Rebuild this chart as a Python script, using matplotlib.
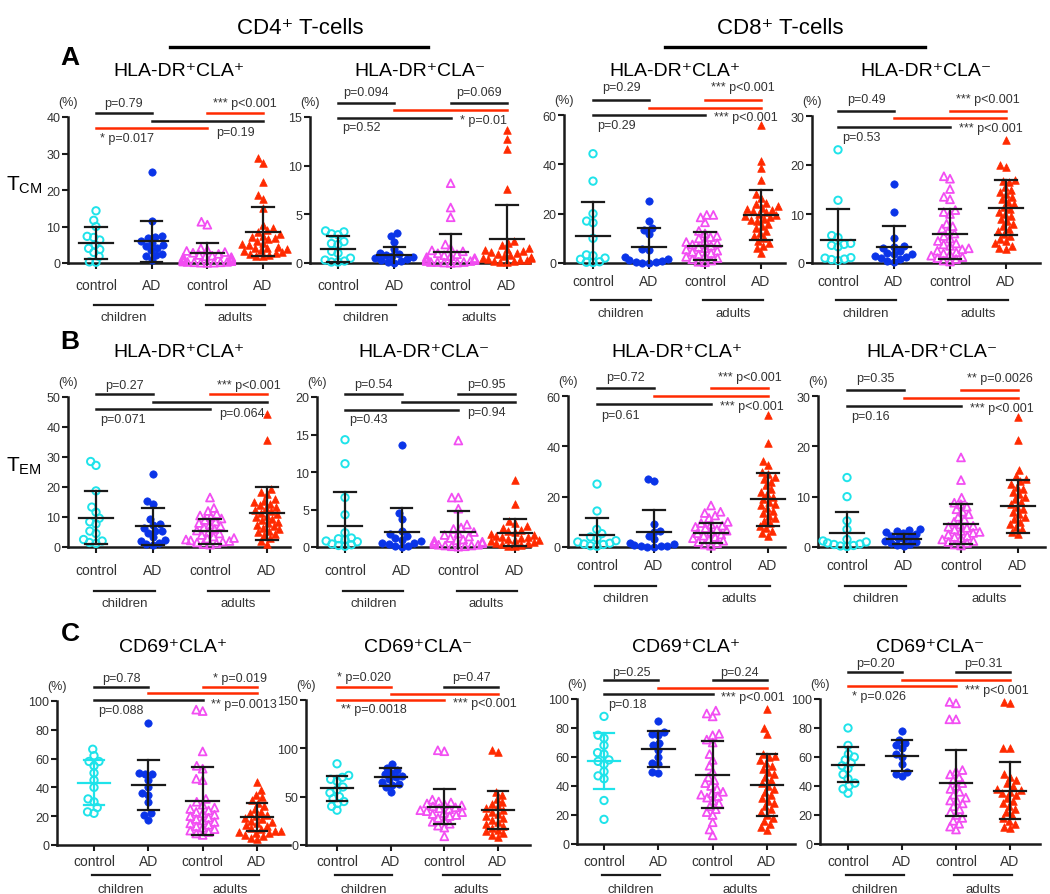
import numpy as np
import matplotlib
matplotlib.use("Agg")
import matplotlib.pyplot as plt
from matplotlib import transforms

plt.rcParams['font.family'] = ['Liberation Sans', 'DejaVu Sans']
plt.rcParams['mathtext.fontset'] = 'custom'
plt.rcParams['mathtext.rm'] = 'Liberation Sans'

W, H = 1050, 895
CYAN = '#1FE3EA'
BLUE = '#0A34E8'
MAGENTA = '#F24EF2'
RED = '#FF2A00'
INK = '#1a1a1a'
GREY = '#333333'

# ---- data (children control, children AD, adults control, adults AD) ----
groups = ["control", "AD", "control", "AD"]

# A: T_CM, HLA-DR+ ; CD4 CLA+
a1_cc = [14.3, 11.7, 10.0, 7.3, 7.0, 6.3, 5.0, 4.0, 3.7, 2.9, 1.8, 0.3, 0.2]
a1_ca = [25.0, 11.4, 7.5, 7.0, 6.9, 5.9, 5.5, 5.0, 4.6, 4.2, 3.5, 2.5, 2.2, 1.8, 0.8]
a1_ac = [11.3, 10.5, 4.0, 3.6, 3.3, 3.0, 2.8, 2.5, 2.2, 2.0, 1.8, 1.6, 1.5, 1.3, 1.2,
         1.0, 0.9, 0.8, 0.7, 0.6, 0.5, 0.5, 0.4, 0.3, 0.3, 0.2, 0.2, 0.1, 0.1, 0.05]
a1_aa = [28.7, 27.5, 22.1, 18.5, 17.5, 15.2, 10.5, 9.5, 9.0, 8.5, 8.0, 7.5, 7.2, 6.8, 6.5,
         6.0, 5.5, 5.2, 5.0, 4.5, 4.2, 4.0, 3.8, 3.5, 3.2, 3.0, 2.8, 2.5, 2.2, 2.0, 1.8]
a1_mean = [5.5, 6.0, 2.7, 8.6]
a1_sd = [4.5, 5.6, 2.8, 6.8]
a1_p = ["p=0.79", "*** p<0.001", "p=0.19", "* p=0.017"]

# CD4 CLA-
a2_cc = [3.3, 3.2, 3.0, 2.9, 2.2, 2.0, 1.9, 1.2, 1.0, 0.5, 0.3, 0.2, 0.1, 0.1]
a2_ca = [3.1, 2.8, 2.2, 1.4, 1.0, 0.9, 0.8, 0.7, 0.6, 0.5, 0.4, 0.3, 0.2, 0.1, 0.05]
a2_ac = [8.2, 5.7, 4.7, 1.9, 1.5, 1.3, 1.2, 1.0, 0.9, 0.8, 0.7, 0.6, 0.5, 0.4, 0.4,
         0.3, 0.3, 0.2, 0.2, 0.1, 0.1, 0.1, 0.05, 0.05, 0.02]
a2_aa = [13.7, 12.7, 11.7, 7.6, 2.3, 2.1, 1.8, 1.5, 1.4, 1.3, 1.2, 1.1, 1.0, 0.9, 0.8,
         0.7, 0.6, 0.5, 0.5, 0.4, 0.3, 0.3, 0.2, 0.2, 0.1, 0.1]
a2_mean = [1.43, 0.82, 1.16, 2.46]
a2_sd = [1.34, 0.85, 1.8, 3.55]
a2_p = ["p=0.094", "p=0.069", "* p=0.01", "p=0.52"]

# CD8 CLA+
a3_cc = [44.3, 33.2, 20.0, 17.0, 16.3, 10.0, 3.3, 3.0, 2.0, 1.5, 0.5, 0.3, 0.2]
a3_ca = [25.0, 17.2, 14.0, 13.5, 11.6, 5.5, 5.3, 2.4, 1.5, 1.2, 0.8, 0.5, 0.3, 0.2, 0.1]
a3_ac = [19.5, 19.5, 18.5, 16.5, 13.0, 12.0, 11.0, 10.5, 10.0, 9.0, 8.5, 8.0, 7.5, 7.0,
         6.5, 6.0, 5.5, 5.0, 4.5, 4.0, 3.5, 3.0, 2.5, 2.0, 1.5, 1.0, 0.5, 0.3]
a3_aa = [56.0, 41.5, 38.5, 33.5, 28.0, 26.5, 24.5, 24.0, 23.0, 22.5, 22.0, 21.5, 21.0,
         20.5, 20.0, 19.5, 19.0, 18.5, 18.0, 17.5, 17.0, 16.0, 15.0, 14.0, 13.0, 12.0,
         11.0, 10.0, 9.0, 8.0, 7.0, 6.0, 4.0]
a3_mean = [11.1, 6.4, 6.8, 19.5]
a3_sd = [13.5, 7.6, 5.6, 10.1]
a3_p = ["p=0.29", "*** p<0.001", "*** p<0.001", "p=0.29"]

# CD8 CLA-
a4_cc = [23.1, 12.8, 5.6, 5.2, 4.0, 3.8, 3.6, 3.3, 1.1, 1.0, 0.8, 0.7, 0.5]
a4_ca = [16.2, 10.5, 5.2, 3.5, 3.3, 3.0, 2.5, 2.0, 1.8, 1.8, 1.5, 1.2, 1.0, 0.8, 0.5, 0.3]
a4_ac = [17.7, 17.2, 15.1, 13.5, 13.0, 10.8, 10.4, 10.0, 8.0, 7.5, 7.0, 6.5, 6.0, 5.5,
         5.0, 4.5, 4.0, 3.8, 3.5, 3.0, 2.8, 2.5, 2.2, 2.0, 1.8, 1.5, 1.2, 1.0, 0.8, 0.5, 0.3]
a4_aa = [25.2, 20.0, 19.5, 17.0, 16.8, 16.5, 15.5, 15.0, 14.5, 14.0, 13.5, 13.0, 12.5,
         12.0, 11.5, 11.0, 10.5, 10.0, 9.5, 9.0, 8.5, 8.0, 7.5, 7.0, 6.5, 6.0, 5.5, 5.0,
         4.5, 4.0, 3.5, 3.0, 2.8]
a4_mean = [4.6, 3.3, 5.9, 11.3]
a4_sd = [6.4, 4.2, 5.1, 5.6]
a4_p = ["p=0.49", "*** p<0.001", "*** p<0.001", "p=0.53"]

# B: T_EM
b1_cc = [28.5, 27.2, 18.7, 13.3, 11.6, 9.6, 8.4, 7.7, 5.3, 4.5, 2.5, 2.0, 1.5, 1.2]
b1_ca = [24.5, 15.2, 14.2, 9.5, 7.8, 7.5, 6.5, 5.5, 5.3, 4.8, 3.2, 2.5, 2.0, 1.5, 1.0, 0.8]
b1_ac = [16.5, 13.0, 12.0, 11.0, 10.5, 10.0, 9.5, 9.0, 8.5, 8.0, 7.5, 7.0, 6.5, 6.0, 5.5,
         5.0, 4.5, 4.0, 3.5, 3.0, 2.8, 2.5, 2.2, 2.0, 1.8, 1.5, 1.2, 1.0, 0.8]
b1_aa = [44.5, 35.8, 19.5, 18.5, 17.8, 16.0, 15.5, 15.0, 14.5, 14.0, 13.5, 13.0, 12.5,
         12.0, 11.5, 11.0, 10.5, 10.0, 9.5, 9.0, 8.5, 8.0, 7.5, 7.0, 6.5, 6.0, 5.5, 5.0,
         4.5, 4.0, 3.0, 2.0, 1.0]
b1_mean = [9.8, 6.9, 5.2, 11.3]
b1_sd = [8.9, 6.2, 4.2, 8.8]
b1_p = ["p=0.27", "*** p<0.001", "p=0.064", "p=0.071"]

b2_cc = [14.3, 11.1, 6.6, 4.3, 1.9, 1.2, 1.1, 1.0, 0.8, 0.7, 0.4, 0.3, 0.2, 0.1]
b2_ca = [13.6, 4.6, 3.8, 2.2, 1.8, 1.5, 1.2, 1.0, 0.8, 0.6, 0.5, 0.4, 0.2, 0.1, 0.05]
b2_ac = [14.2, 6.6, 6.6, 5.1, 3.0, 2.6, 2.4, 2.0, 1.8, 1.6, 1.4, 1.2, 1.0, 0.9, 0.8, 0.7,
         0.6, 0.5, 0.4, 0.3, 0.3, 0.2, 0.2, 0.1, 0.1, 0.05]
b2_aa = [8.9, 5.7, 3.5, 3.2, 2.8, 2.5, 2.3, 2.1, 2.0, 1.8, 1.6, 1.5, 1.4, 1.3, 1.2, 1.1,
         1.0, 0.9, 0.8, 0.7, 0.6, 0.5, 0.4, 0.3, 0.2, 0.1]
b2_mean = [2.8, 2.0, 1.96, 1.9]
b2_sd = [4.5, 3.2, 2.9, 1.8]
b2_p = ["p=0.54", "p=0.95", "p=0.94", "p=0.43"]

b3_cc = [25.0, 14.3, 7.0, 5.3, 4.0, 3.5, 2.5, 2.0, 1.5, 1.2, 1.0, 0.5, 0.3]
b3_ca = [27.0, 26.2, 9.3, 6.5, 6.0, 4.5, 3.0, 1.5, 1.0, 0.8, 0.5, 0.3, 0.2, 0.1, 0.1]
b3_ac = [16.5, 14.0, 13.5, 12.5, 11.5, 10.0, 9.5, 9.0, 8.5, 8.0, 7.5, 7.0, 6.5, 6.0, 5.5,
         5.0, 4.5, 4.0, 3.5, 3.0, 2.5, 2.0, 1.5, 1.0, 0.5]
b3_aa = [52.5, 41.5, 34.0, 32.5, 30.0, 29.0, 28.0, 27.0, 26.0, 24.5, 23.0, 22.0, 21.0,
         20.0, 19.0, 18.0, 17.0, 16.5, 15.5, 14.5, 13.5, 12.5, 11.5, 10.5, 9.5, 8.5, 7.5,
         6.5, 5.5, 4.5]
b3_mean = [4.6, 6.0, 5.7, 18.9]
b3_sd = [7.0, 8.6, 4.0, 10.6]
b3_p = ["p=0.72", "*** p<0.001", "*** p<0.001", "p=0.61"]

b4_cc = [13.8, 10.0, 5.2, 3.5, 1.5, 1.2, 1.0, 0.8, 0.6, 0.5, 0.3, 0.2, 0.1]
b4_ca = [3.5, 3.3, 3.2, 3.0, 2.8, 2.5, 2.2, 2.0, 1.8, 1.5, 1.2, 1.0, 0.8, 0.5, 0.3, 0.1]
b4_ac = [17.8, 13.3, 9.8, 8.8, 8.5, 8.0, 7.5, 7.0, 6.5, 6.0, 5.5, 5.0, 4.5, 4.2, 4.0,
         3.8, 3.5, 3.2, 3.0, 2.8, 2.5, 2.2, 2.0, 1.8, 1.5, 1.2, 1.0, 0.8, 0.5, 0.3]
b4_aa = [25.8, 21.3, 15.3, 14.2, 13.5, 13.2, 12.5, 12.0, 11.5, 11.0, 10.5, 10.0, 9.5,
         9.0, 8.5, 8.0, 7.5, 7.0, 6.5, 6.0, 5.5, 5.0, 4.5, 4.0, 3.5, 3.0, 2.5]
b4_mean = [2.7, 1.66, 4.6, 8.1]
b4_sd = [4.3, 1.0, 4.0, 5.3]
b4_p = ["p=0.35", "** p=0.0026", "*** p<0.001", "p=0.16"]

# C: CD69+
c1_cc = [66.5, 62.0, 58.0, 58.0, 55.0, 50.0, 45.0, 40.0, 32.0, 30.0, 26.0, 23.0, 22.0]
c1_ca = [85.0, 50.0, 49.0, 49.0, 45.0, 40.0, 36.0, 35.0, 30.0, 22.0, 21.0, 17.5]
c1_ac = [94.0, 93.0, 65.0, 55.0, 53.0, 46.0, 45.0, 32.0, 30.0, 28.0, 26.0, 25.0, 24.0,
         23.0, 22.0, 21.0, 20.0, 19.0, 18.0, 17.0, 16.0, 15.0, 14.0, 13.0, 12.0, 11.0,
         10.0, 9.0, 8.0, 7.0]
c1_aa = [43.5, 38.0, 35.0, 33.0, 31.0, 29.0, 27.0, 25.0, 23.0, 22.0, 21.0, 20.0, 19.0,
         18.0, 17.0, 16.0, 15.0, 14.0, 13.0, 12.0, 11.0, 10.0, 9.5, 9.0, 8.5, 8.0, 7.0,
         6.0, 5.0, 4.0]
c1_mean = [43.4, 41.6, 30.7, 19.2]
c1_sd = [15.5, 17.6, 23.5, 9.8]
c1_p = ["p=0.78", "* p=0.019", "** p=0.0013", "p=0.088"]

c2_cc = [84.0, 72.0, 70.0, 68.0, 66.0, 60.0, 57.0, 54.0, 50.0, 48.0, 45.0, 43.0, 40.0, 36.0]
c2_ca = [84.0, 80.0, 78.0, 75.0, 73.0, 71.0, 70.0, 68.0, 65.0, 63.0, 62.0, 60.0, 55.0]
c2_ac = [98.0, 97.0, 47.0, 45.0, 44.0, 43.0, 42.0, 41.0, 40.0, 39.0, 38.0, 37.0, 36.0,
         35.0, 34.0, 33.0, 32.0, 31.0, 30.0, 28.0, 26.0, 24.0, 22.0, 20.0, 18.0, 9.0]
c2_aa = [98.0, 96.0, 55.0, 52.0, 48.0, 45.0, 42.0, 40.0, 38.0, 36.0, 34.0, 32.0, 30.0,
         28.0, 26.0, 24.0, 22.0, 20.0, 18.0, 16.0, 14.0, 12.0, 10.0, 8.0]
c2_mean = [58.5, 70.5, 39.6, 36.1]
c2_sd = [13.2, 9.5, 18.1, 19.8]
c2_p = ["* p=0.020", "p=0.47", "*** p<0.001", "** p=0.0018"]

c3_cc = [88.0, 75.0, 73.0, 68.0, 63.0, 62.0, 58.0, 57.0, 55.0, 50.0, 47.0, 45.0, 30.0, 17.0]
c3_ca = [85.0, 77.0, 76.0, 75.0, 70.0, 68.0, 65.0, 60.0, 56.0, 55.0, 50.0, 49.0]
c3_ac = [92.0, 90.0, 88.0, 76.0, 75.0, 72.0, 70.0, 62.0, 58.0, 54.0, 50.0, 46.0, 44.0,
         42.0, 40.0, 38.0, 36.0, 35.0, 34.0, 33.0, 32.0, 30.0, 28.0, 26.0, 24.0, 22.0,
         20.0, 15.0, 10.0, 6.0]
c3_aa = [93.0, 80.0, 76.0, 62.0, 61.0, 60.0, 58.0, 56.0, 54.0, 52.0, 50.0, 48.0, 46.0,
         44.0, 42.0, 40.0, 38.0, 36.0, 34.0, 32.0, 30.0, 28.0, 26.0, 24.0, 22.0, 20.0,
         18.0, 16.0, 14.0, 12.0, 10.0]
c3_mean = [57.2, 65.3, 47.6, 40.7]
c3_sd = [19.4, 12.3, 23.1, 21.3]
c3_p = ["p=0.25", "p=0.24", "*** p<0.001", "p=0.18"]

c4_cc = [80.0, 68.0, 62.0, 60.0, 58.0, 56.0, 54.0, 52.0, 48.0, 45.0, 42.0, 40.0, 38.0, 35.0]
c4_ca = [78.0, 72.0, 70.0, 68.0, 66.0, 62.0, 60.0, 55.0, 50.0, 48.0, 47.0]
c4_ac = [98.0, 97.0, 86.0, 86.0, 51.0, 50.0, 48.0, 46.0, 44.0, 42.0, 40.0, 38.0, 36.0,
         34.0, 32.0, 30.0, 30.0, 28.0, 26.0, 24.0, 22.0, 20.0, 18.0, 16.0, 14.0, 12.0, 10.0]
c4_aa = [98.0, 97.0, 66.0, 66.0, 48.0, 46.0, 44.0, 42.0, 40.0, 38.0, 37.0, 36.0, 35.0,
         34.0, 32.0, 30.0, 28.0, 26.0, 24.0, 22.0, 20.0, 18.0, 16.0, 14.0, 12.0, 11.0]
c4_mean = [54.7, 60.9, 42.1, 36.8]
c4_sd = [12.1, 10.7, 23.0, 19.5]
c4_p = ["p=0.20", "p=0.31", "*** p<0.001", "* p=0.026"]

hla_titles = ["HLA-DR\u207aCLA\u207a", "HLA-DR\u207aCLA\u207b"] * 2
cd69_titles = ["CD69\u207aCLA\u207a", "CD69\u207aCLA\u207b"] * 2
ytick_sets = [[0, 10, 20, 30, 40], [0, 5, 10, 15], [0, 20, 40, 60], [0, 10, 20, 30],
              [0, 10, 20, 30, 40, 50], [0, 5, 10, 15, 20], [0, 20, 40, 60], [0, 10, 20, 30],
              [0, 20, 40, 60, 80, 100], [0, 50, 100, 150], [0, 20, 40, 60, 80, 100],
              [0, 20, 40, 60, 80, 100]]

panel_data = [
    ([a1_cc, a1_ca, a1_ac, a1_aa], a1_mean, a1_sd, a1_p),
    ([a2_cc, a2_ca, a2_ac, a2_aa], a2_mean, a2_sd, a2_p),
    ([a3_cc, a3_ca, a3_ac, a3_aa], a3_mean, a3_sd, a3_p),
    ([a4_cc, a4_ca, a4_ac, a4_aa], a4_mean, a4_sd, a4_p),
    ([b1_cc, b1_ca, b1_ac, b1_aa], b1_mean, b1_sd, b1_p),
    ([b2_cc, b2_ca, b2_ac, b2_aa], b2_mean, b2_sd, b2_p),
    ([b3_cc, b3_ca, b3_ac, b3_aa], b3_mean, b3_sd, b3_p),
    ([b4_cc, b4_ca, b4_ac, b4_aa], b4_mean, b4_sd, b4_p),
    ([c1_cc, c1_ca, c1_ac, c1_aa], c1_mean, c1_sd, c1_p),
    ([c2_cc, c2_ca, c2_ac, c2_aa], c2_mean, c2_sd, c2_p),
    ([c3_cc, c3_ca, c3_ac, c3_aa], c3_mean, c3_sd, c3_p),
    ([c4_cc, c4_ca, c4_ac, c4_aa], c4_mean, c4_sd, c4_p),
]
titles = hla_titles + hla_titles + cd69_titles

# ---- layout in pixels ----
# axes box: y-axis x, x-axis end, top tick y, zero y, first / last category x
boxes = [(68, 290, 118, 264, 96, 263), (310, 530, 118, 264, 338, 507),
         (564, 785, 116, 264, 593, 761), (812, 1040, 117, 264, 838, 1006),
         (68, 290, 398, 548, 96, 267), (317, 530, 398, 548, 345, 515),
         (568, 785, 397, 548, 597, 768), (818, 1045, 397, 548, 847, 1018),
         (57, 290, 702, 846, 94, 257), (306, 530, 701, 846, 337, 498),
         (577, 795, 700, 845, 604, 767), (820, 1040, 700, 845, 848, 1010)]
# bar top, bar mid, bar low, label top, label low-left, label low-right
sig_y = [(114, 122, 129, 104, 139, 133), (104, 111, 119, 93, 128, 121),
         (101, 109, 116, 88, 126, 118), (112, 119, 128, 100, 138, 129),
         (395, 403, 410, 386, 420, 414), (395, 403, 411, 385, 420, 413),
         (389, 397, 405, 378, 416, 407), (391, 399, 407, 379, 417, 409),
         (688, 694, 701, 679, 711, 705), (688, 695, 701, 678, 710, 704),
         (681, 689, 695, 673, 705, 698), (673, 681, 687, 664, 697, 691)]
# x label y, group line y, group label y
xlab_y = [(286, 306, 318)] * 2 + [(282, 301, 314)] * 2 + [(571, 592, 604)] * 2 + \
         [(566, 587, 599)] * 2 + [(862, 876, 890)] * 4
title_y = [72] * 4 + [353] * 4 + [648] * 4
cyan_sd = {8, 10}

styles = [dict(marker='o', facecolors='none', edgecolors=CYAN, linewidths=1.4, s=28),
          dict(marker='o', facecolors=BLUE, edgecolors=BLUE, linewidths=0.5, s=28),
          dict(marker='^', facecolors='none', edgecolors=MAGENTA, linewidths=1.3, s=32),
          dict(marker='^', facecolors=RED, edgecolors=RED, linewidths=0.5, s=30)]


def fy(py):
    return 1 - py / H


def swarm(vals, ppu, d=6.6, xmax=24.0):
    vals = np.asarray(vals, float)
    offs = np.zeros(len(vals))
    placed = []
    for i in np.argsort(vals):
        y = vals[i] * ppu
        near = [(px, y - py) for px, py in placed if abs(y - py) < d]
        cands = [0.0]
        for px, dy in near:
            w = np.sqrt(d * d - dy * dy)
            cands += [px - w, px + w]
        chosen = 0.0
        for c in sorted(cands, key=abs):
            if all(abs(c - px) >= np.sqrt(d * d - dy * dy) - 1e-6 for px, dy in near):
                chosen = c
                break
        chosen = max(-xmax, min(xmax, chosen))
        placed.append((chosen, y))
        offs[i] = chosen
    return offs


fig = plt.figure(figsize=(W / 100, H / 100), dpi=100)

for k in range(12):
    xl, xr, yt, yb, c0, c3 = boxes[k]
    step = (c3 - c0) / 3
    ax = fig.add_axes([xl / W, 1 - yb / H, (xr - xl) / W, (yb - yt) / H])
    yticks = ytick_sets[k]
    ymax = yticks[-1]
    ax.set_xlim((xl - c0) / step, (xr - c0) / step)
    ax.set_ylim(0, ymax)
    ppu = (yb - yt) / ymax
    vals, mean, sd, pv = panel_data[k]

    for g in range(4):
        xs = g + swarm(vals[g], ppu) / step
        ax.scatter(xs, vals[g], clip_on=False, zorder=3, **styles[g])
        col = CYAN if (g == 0 and k in cyan_sd) else INK
        m, s_ = mean[g], sd[g]
        lo = max(m - s_, 0)
        kw = dict(color=col, lw=1.6, zorder=4, clip_on=False)
        ax.plot([g - 0.3, g + 0.3], [m, m], **kw)
        ax.plot([g, g], [lo, m + s_], **kw)
        ax.plot([g - 0.19, g + 0.19], [m + s_] * 2, **kw)
        if m - s_ > 0:
            ax.plot([g - 0.19, g + 0.19], [lo] * 2, **kw)

    for side in ['top', 'right']:
        ax.spines[side].set_visible(False)
    for side in ['left', 'bottom']:
        ax.spines[side].set_linewidth(1.8)
        ax.spines[side].set_color(INK)
    ax.set_yticks(yticks)
    ax.set_xticks(range(4))
    ax.set_xticklabels([])
    ax.tick_params(axis='both', length=4, width=1.5, color=INK, labelsize=9,
                   labelcolor=GREY, pad=1.5)

    # significance bars
    tr = transforms.blended_transform_factory(ax.transData, fig.transFigure)
    bt, bm, bl, lt, ll, lr = sig_y[k]
    bars = [(0, 1, bt), (2, 3, bt), (1, 3, bm), (0, 2, bl)]
    for (a, b, yy), lab in zip(bars, pv):
        c = RED if '*' in lab else INK
        ax.plot([a, b], [fy(yy)] * 2, color=c, lw=1.8, transform=tr, clip_on=False)
    off = 10 / step
    tkw = dict(transform=tr, va='center', fontsize=9, color=GREY)
    ax.text(0.5, fy(lt), pv[0], ha='center', **tkw)
    ax.text(2.5 + (off if '*' in pv[1] else 0), fy(lt), pv[1], ha='center', **tkw)
    ax.text(2 + 0.16, fy(lr), pv[2], ha='left', **tkw)
    ax.text(0.08, fy(ll), pv[3], ha='left', **tkw)

    # x labels and group lines
    ly, gy, gt = xlab_y[k]
    for g in range(4):
        ax.text(g, fy(ly), groups[g], transform=tr, ha='center', va='center', fontsize=10,
                color=GREY)
    for a, b, name in [(0, 1, "children"), (2, 3, "adults")]:
        ax.plot([a - 0.03, b + 0.03], [fy(gy)] * 2, color=INK, lw=1.6, transform=tr,
                clip_on=False)
        ax.text((a + b) / 2, fy(gt), name, transform=tr, ha='center', va='center',
                fontsize=9.5, color=GREY)

    fig.text(xl / W, fy(yt - 15), "(%)", ha='center', va='center', fontsize=9, color=GREY)
    fig.text((xl + xr) / 2 / W, fy(title_y[k]), titles[k], ha='center', va='center',
             fontsize=14, color='black')

# header
fig.text(300 / W, fy(28), "CD4\u207a T-cells", ha='center', va='center', fontsize=16)
fig.text(780 / W, fy(28), "CD8\u207a T-cells", ha='center', va='center', fontsize=16)
fig.add_artist(plt.Line2D([170 / W, 428 / W], [fy(48)] * 2, color='black', lw=2.4))
fig.add_artist(plt.Line2D([665 / W, 925 / W], [fy(48)] * 2, color='black', lw=2.4))
for letter, yy in [("A", 58), ("B", 342), ("C", 634)]:
    fig.text(70 / W, fy(yy), letter, ha='center', va='center', fontsize=19, fontweight='bold')
fig.text(6 / W, fy(185), r"T$_{\mathrm{CM}}$", ha='left', va='center', fontsize=15)
fig.text(6 / W, fy(466), r"T$_{\mathrm{EM}}$", ha='left', va='center', fontsize=15)

fig.savefig("out.png", dpi=100)
